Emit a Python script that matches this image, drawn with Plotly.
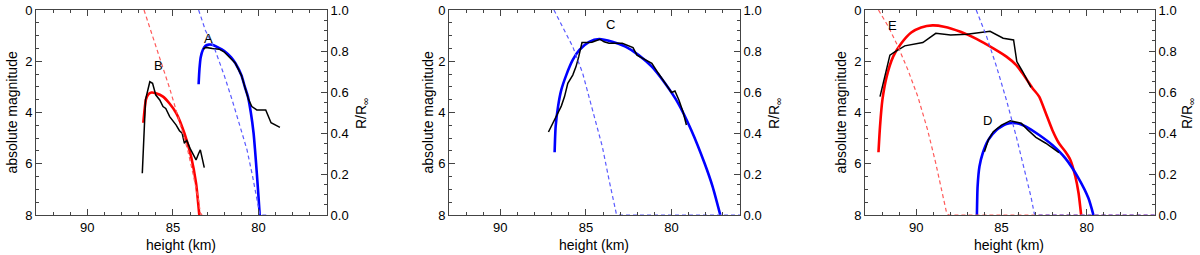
import plotly.graph_objects as go

# ---------------- data ----------------
# Panel 1 (meteors A and B)
hA_mod = [83.5, 83.45, 83.38, 83.25, 83.1, 82.9, 82.7, 82.4, 82.0, 81.6, 81.35, 81.0, 80.8, 80.62, 80.45, 80.29, 80.2, 80.1, 80.0, 79.93]
magA_mod = [2.9, 2.3, 1.85, 1.55, 1.4, 1.35, 1.36, 1.45, 1.6, 1.85, 2.08, 2.55, 3.0, 3.38, 4.0, 4.8, 5.5, 6.37, 7.3, 8.0]
hA_obs = [83.23, 83.08, 82.7, 82.3, 82.02, 81.73, 81.35, 81.0, 80.8, 80.58, 80.39, 80.1, 79.58, 79.27, 78.75]
magA_obs = [1.53, 1.46, 1.5, 1.53, 1.63, 1.82, 2.08, 2.55, 3.0, 3.5, 3.77, 3.9, 3.9, 4.4, 4.58]
hA_R = [83.5, 83.1, 82.54, 82.0, 81.54, 81.1, 80.67, 80.35, 80.1, 79.92, 79.55]
RA = [1.0, 0.9, 0.805, 0.68, 0.561, 0.44, 0.317, 0.19, 0.073, 0.0, 0.0]

hB_mod = [86.73, 86.65, 86.58, 86.45, 86.25, 86.0, 85.58, 85.2, 84.8, 84.33, 83.94, 83.65, 83.46]
magB_mod = [4.4, 3.85, 3.5, 3.3, 3.22, 3.25, 3.38, 3.65, 4.03, 4.81, 5.72, 6.76, 8.0]
hB_obs = [86.79, 86.6, 86.35, 86.19, 86.0, 85.77, 85.58, 85.42, 85.19, 84.81, 84.62, 84.46, 84.33, 84.2, 84.0, 83.85, 83.65, 83.5, 83.4, 83.27, 83.17]
magB_obs = [6.37, 3.5, 2.8, 2.86, 3.32, 3.51, 3.77, 3.84, 4.16, 4.49, 4.71, 4.81, 5.2, 5.07, 5.4, 5.6, 5.85, 5.6, 5.46, 5.85, 6.15]
hB_R = [86.69, 86.3, 85.96, 85.58, 85.2, 84.81, 84.45, 84.14, 83.85, 83.65, 83.5, 83.4, 83.3]
RB = [1.0, 0.9, 0.81, 0.72, 0.62, 0.51, 0.41, 0.317, 0.21, 0.138, 0.07, 0.01, 0.0]

# Panel 2 (meteor C)
hC_mod = [86.83, 86.77, 86.63, 86.44, 86.15, 85.77, 85.38, 84.81, 84.23, 83.46, 82.69, 81.92, 81.15, 80.38, 79.61, 78.85, 78.07, 77.6, 77.15]
magC_mod = [5.55, 4.55, 3.77, 3.12, 2.54, 1.95, 1.56, 1.24, 1.13, 1.24, 1.43, 1.76, 2.21, 2.86, 3.64, 4.68, 5.98, 6.89, 8.0]
hC_obs = [87.19, 86.73, 86.44, 86.25, 86.06, 85.77, 85.58, 85.42, 85.23, 84.9, 84.65, 84.42, 84.19, 83.94, 83.65, 82.88, 82.25, 82.02, 81.54, 81.15, 80.77, 80.38, 80.0, 79.8, 79.57, 79.33, 79.13]
magC_obs = [4.76, 4.1, 3.75, 3.38, 2.86, 2.54, 2.21, 1.82, 1.27, 1.27, 1.26, 1.2, 1.14, 1.24, 1.3, 1.3, 1.47, 1.76, 1.92, 2.08, 2.47, 2.86, 3.22, 3.16, 3.51, 3.97, 4.49]
hC_R = [86.87, 86.35, 85.77, 85.19, 84.62, 84.04, 83.65, 83.42, 83.23, 83.1, 76.0]
RC = [1.0, 0.919, 0.821, 0.691, 0.512, 0.333, 0.171, 0.073, 0.008, 0.0, 0.0]

# Panel 3 (meteors D and E)
hE_mod = [92.21, 92.12, 91.98, 91.73, 91.35, 90.87, 90.29, 89.71, 89.04, 88.37, 87.4, 86.44, 85.48, 84.71, 84.13, 83.56, 83.17, 82.79, 82.4, 82.02, 81.63, 81.25, 80.96, 80.67, 80.48, 80.33]
magE_mod = [5.55, 4.55, 3.51, 2.6, 1.82, 1.3, 0.88, 0.68, 0.6, 0.65, 0.85, 1.14, 1.5, 1.82, 2.15, 2.67, 3.06, 3.38, 4.03, 4.68, 5.2, 5.53, 5.85, 6.5, 7.15, 8.0]
hE_obs = [92.12, 91.54, 91.25, 90.67, 89.61, 88.85, 87.98, 87.02, 85.67, 84.9, 84.29, 84.1, 83.75, 83.27]
magE_obs = [3.38, 1.76, 1.63, 1.4, 1.27, 0.91, 0.98, 0.95, 0.83, 1.1, 1.17, 2.01, 2.41, 3.02]
hE_R = [92.21, 91.63, 91.06, 90.48, 89.9, 89.33, 88.85, 88.46, 88.21, 88.1, 76.0]
RE = [1.0, 0.919, 0.821, 0.707, 0.577, 0.415, 0.252, 0.106, 0.008, 0.0, 0.0]

hD_mod = [86.44, 86.4, 86.29, 86.1, 85.77, 85.29, 84.71, 84.13, 83.56, 82.79, 82.02, 81.25, 80.48, 79.9, 79.61]
magD_mod = [8.0, 6.89, 6.11, 5.59, 5.07, 4.68, 4.45, 4.42, 4.55, 4.88, 5.27, 5.79, 6.57, 7.35, 8.0]
hD_obs = [86.0, 85.77, 85.48, 85.0, 84.48, 83.84, 83.46, 82.98, 82.4, 81.63]
magD_obs = [5.53, 5.07, 4.75, 4.49, 4.32, 4.42, 4.68, 4.97, 5.2, 5.57]
hD_R = [86.48, 85.87, 85.29, 84.71, 84.13, 83.65, 83.27, 83.08, 83.0, 76.0]
RD = [1.0, 0.87, 0.724, 0.561, 0.382, 0.22, 0.089, 0.008, 0.0, 0.0]

labels = [("A", 82.94, 1.1, 1), ("B", 85.83, 2.17, 1), ("C", 83.56, 0.55, 2),
          ("D", 85.8, 4.32, 3), ("E", 91.4, 0.59, 3)]

x_ticks = [90, 85, 80]
mag_ticks = [0, 2, 4, 6, 8]
R_ticks = [0.0, 0.2, 0.4, 0.6, 0.8, 1.0]

# ---------------- figure ----------------
BLUE = "rgb(0,0,255)"
RED = "rgb(255,0,0)"
BLUE_D = "rgb(90,90,255)"
RED_D = "rgb(255,90,90)"
AX = "#444444"
FONT = "Liberation Sans, Arial, sans-serif"

fig = go.Figure()

def ax_names(p):
    xa = "x" if p == 1 else f"x{p}"
    yl = "y" if p == 1 else f"y{2*p-1}"
    yr = f"y{2*p}"
    return xa, yl, yr

def add_model(p, h, m, color):
    xa, yl, yr = ax_names(p)
    fig.add_trace(go.Scatter(x=h, y=m, xaxis=xa, yaxis=yl, mode="lines",
                             line=dict(color=color, width=2.6, shape="spline", smoothing=0.6),
                             showlegend=False, hoverinfo="skip"))

def add_obs(p, h, m):
    xa, yl, yr = ax_names(p)
    fig.add_trace(go.Scatter(x=h, y=m, xaxis=xa, yaxis=yl, mode="lines",
                             line=dict(color="black", width=1.5),
                             showlegend=False, hoverinfo="skip"))

def add_R(p, h, r, color):
    xa, yl, yr = ax_names(p)
    fig.add_trace(go.Scatter(x=h, y=r, xaxis=xa, yaxis=yr, mode="lines",
                             line=dict(color=color, width=1.2, dash="4px,3px"),
                             showlegend=False, hoverinfo="skip"))

add_R(1, hB_R, RB, RED_D)
add_R(1, hA_R, RA, BLUE_D)
add_model(1, hB_mod, magB_mod, RED)
add_model(1, hA_mod, magA_mod, BLUE)
add_obs(1, hB_obs, magB_obs)
add_obs(1, hA_obs, magA_obs)

add_R(2, hC_R, RC, BLUE_D)
add_model(2, hC_mod, magC_mod, BLUE)
add_obs(2, hC_obs, magC_obs)

add_R(3, hE_R, RE, RED_D)
add_R(3, hD_R, RD, BLUE_D)
add_model(3, hE_mod, magE_mod, RED)
add_model(3, hD_mod, magD_mod, BLUE)
add_obs(3, hE_obs, magE_obs)
add_obs(3, hD_obs, magD_obs)

W, H = 1200, 255
panels_px = [(36, 327), (449, 740), (865, 1155)]
TOP, BOT = 10, 215
ML = panels_px[0][0]
MR = W - panels_px[2][1]
MT = TOP
MB = H - BOT
PW = W - ML - MR
PH = H - MT - MB
domains = [[(a - ML) / PW, (b - ML) / PW] for a, b in panels_px]

tickfont = dict(family=FONT, size=13, color="black")
layout = dict(
    width=W, height=H,
    margin=dict(l=ML, r=MR, t=MT, b=MB),
    paper_bgcolor="white", plot_bgcolor="white",
    font=dict(family=FONT, size=13, color="black"),
    showlegend=False,
)

for p in (1, 2, 3):
    xa, yl, yr = ax_names(p)
    xkey = "xaxis" if p == 1 else f"xaxis{p}"
    ylkey = "yaxis" if p == 1 else f"yaxis{2*p-1}"
    yrkey = f"yaxis{2*p}"
    layout[xkey] = dict(
        domain=domains[p - 1], anchor=yl, range=[93, 76],
        tickvals=x_ticks, ticks="inside", ticklen=6, tickcolor=AX,
        minor=dict(dtick=1, ticks="inside", ticklen=3, tickcolor=AX, showgrid=False),
        showline=True, linecolor=AX, linewidth=1, mirror="ticks",
        showgrid=False, zeroline=False, tickfont=tickfont, automargin=False,
        ticklabeloverflow="allow",
    )
    layout[ylkey] = dict(
        domain=[0, 1], anchor=xa, range=[8, 0],
        tickvals=mag_ticks, ticks="inside", ticklen=6, tickcolor=AX,
        minor=dict(dtick=0.5, ticks="inside", ticklen=3, tickcolor=AX, showgrid=False),
        showline=True, linecolor=AX, linewidth=1, mirror=False,
        showgrid=False, zeroline=False, tickfont=tickfont, automargin=False,
        ticklabeloverflow="allow",
    )
    layout[yrkey] = dict(
        overlaying=yl, anchor=xa, side="right", range=[0, 1],
        tickvals=R_ticks, tickformat=".1f", ticks="inside", ticklen=6, tickcolor=AX,
        minor=dict(dtick=0.05, ticks="inside", ticklen=3, tickcolor=AX, showgrid=False),
        showline=True, linecolor=AX, linewidth=1,
        showgrid=False, zeroline=False, tickfont=tickfont, automargin=False,
        ticklabeloverflow="allow",
    )

fig.update_layout(**layout)

def px_to_paper_x(X):
    return (X - ML) / PW

def px_to_paper_y(Y):
    return 1 - (Y - MT) / PH

annotations = []
title_font = dict(family=FONT, size=14, color="black")
left_title_x = [11, 427, 840]
right_title_x = [362, 775, 1188]
bottom_title_x = [181, 594, 1009]
for i in range(3):
    annotations.append(dict(text="absolute magnitude", xref="paper", yref="paper",
                            x=px_to_paper_x(left_title_x[i]), y=px_to_paper_y(112.5),
                            xanchor="center", yanchor="middle", textangle=-90,
                            showarrow=False, font=title_font))
    annotations.append(dict(text="R/R<sub>∞</sub>", xref="paper", yref="paper",
                            x=px_to_paper_x(right_title_x[i]), y=px_to_paper_y(114),
                            xanchor="center", yanchor="middle", textangle=-90,
                            showarrow=False, font=title_font))
    annotations.append(dict(text="height (km)", xref="paper", yref="paper",
                            x=px_to_paper_x(bottom_title_x[i]), y=px_to_paper_y(245),
                            xanchor="center", yanchor="middle",
                            showarrow=False, font=title_font))

for txt, hx, my, p in labels:
    xa, yl, yr = ax_names(p)
    annotations.append(dict(text=txt, x=hx, y=my, xref=xa, yref=yl,
                            showarrow=False, xanchor="center", yanchor="middle",
                            font=dict(family=FONT, size=13, color="black")))

fig.update_layout(annotations=annotations)

# remove the default 8px page margin so the figure fills the 1200x255 window
fig.write_html("out.html", config={"displayModeBar": False},
               post_script="document.body.style.margin='0';")
